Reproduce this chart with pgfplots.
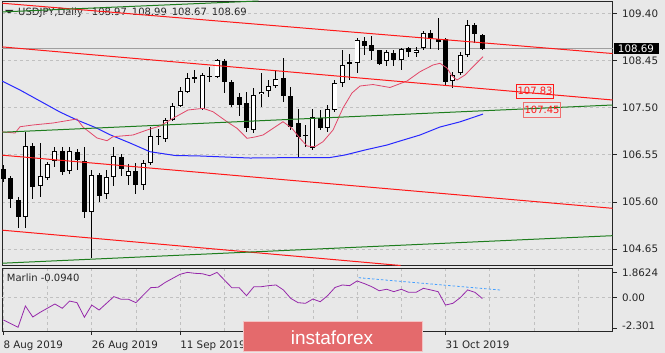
\documentclass[border=0pt]{standalone}
\usepackage{fontspec}
\setmainfont{DejaVu Sans}
\newfontfamily\logofont{Liberation Sans}
\usepackage{pgfplots}
\pgfplotsset{compat=1.18}
\usepackage{pgfplotstable}

\definecolor{bgc}{RGB}{232,232,232}
\definecolor{gridc}{RGB}{192,192,192}
\definecolor{chred}{RGB}{255,25,25}
\definecolor{chgreen}{RGB}{30,125,30}
\definecolor{mablue}{RGB}{40,40,255}
\definecolor{mapink}{RGB}{226,72,105}
\definecolor{marlinc}{RGB}{150,40,170}
\definecolor{trendblue}{RGB}{70,160,255}
\definecolor{logored}{RGB}{228,106,108}

\pgfplotstableread{
i o h l c
0 106.27 106.34 106.01 106.07
1 106.09 106.12 105.47 105.65
2 105.64 105.70 105.07 105.29
3 105.29 107.00 105.08 106.73
4 106.73 106.78 105.66 105.89
5 105.91 106.79 105.70 106.13
6 106.09 106.41 106.04 106.36
7 106.43 106.70 106.31 106.63
8 106.63 106.70 106.14 106.21
9 106.23 106.70 106.17 106.63
10 106.61 106.66 106.24 106.44
11 106.43 106.71 105.27 105.40
12 105.40 106.24 104.46 106.15
13 106.15 106.19 105.60 105.72
14 105.75 106.24 105.65 106.11
15 106.11 106.71 105.91 106.52
16 106.50 106.56 106.12 106.27
17 106.12 106.36 105.94 106.22
18 106.22 106.39 105.75 105.94
19 105.95 106.44 105.84 106.39
20 106.38 107.11 106.34 106.93
21 106.91 107.06 106.75 106.93
22 106.87 107.30 106.81 107.25
23 107.25 107.60 107.22 107.54
24 107.54 107.92 107.52 107.83
25 107.82 108.19 107.79 108.09
26 108.09 108.26 107.99 108.10
27 107.48 108.19 107.45 108.16
28 108.12 108.32 108.02 108.14
29 108.11 108.49 108.09 108.45
30 108.45 108.49 107.79 108.02
31 108.01 108.06 107.52 107.55
32 107.71 107.79 107.33 107.55
33 107.59 107.82 107.01 107.08
34 107.05 107.89 106.99 107.75
35 107.77 108.19 107.52 107.82
36 107.84 108.06 107.72 107.93
37 107.94 108.26 107.89 108.08
38 108.09 108.51 107.62 107.74
39 107.73 107.92 107.05 107.10
40 107.18 107.48 106.50 106.90
41 106.95 107.15 106.71 106.93
42 106.69 107.48 106.64 107.32
43 107.28 107.45 107.05 107.08
44 107.08 107.55 107.01 107.48
45 107.46 108.06 107.42 108.00
46 107.99 108.66 107.92 108.36
47 108.41 108.59 108.06 108.38
48 108.39 108.90 108.19 108.86
49 108.85 108.93 108.56 108.74
50 108.76 108.94 108.47 108.65
51 108.66 108.67 108.36 108.38
52 108.45 108.67 108.34 108.63
53 108.61 108.66 108.34 108.47
54 108.46 108.71 108.26 108.69
55 108.71 108.73 108.53 108.63
56 108.61 108.73 108.53 108.67
57 108.71 109.05 108.67 109.00
58 109.00 109.06 108.69 108.90
59 108.88 109.30 108.67 108.83
60 108.88 108.90 107.95 108.02
61 108.04 108.22 107.89 108.16
62 108.19 108.63 108.16 108.56
63 108.57 109.27 108.53 109.16
64 109.16 109.20 108.80 108.98
65 108.97 108.99 108.67 108.69
}\candles

\begin{document}
\begin{tikzpicture}
\fill[bgc] (-5pt,-5pt) rectangle (670pt,358pt);
% title
\fill[black!85] (5pt,343pt) -- (13.3pt,343pt) -- (9.15pt,339pt) -- cycle;
\node[anchor=base west, inner sep=0pt, font=\fontsize{10}{12}\selectfont, text=black!85] at (18pt,337.5pt)
 {USDJPY,Daily\hspace{9pt}108.97\hspace{5pt}108.99\hspace{5pt}108.67\hspace{5pt}108.69};

\begin{axis}[
 at={(2.3pt,87.5pt)}, anchor=south west,
 scale only axis, width=610.2pt, height=264.5pt,
 xmin=-0.136, xmax=82.66, ymin=104.316, ymax=109.649,
 clip=false,
 axis line style={black!85, line width=0.9pt},
 xtick=\empty, minor xtick={0,6,...,78}, xminorgrids, minor tick length=0pt,
 ytick={104.65,105.6,106.55,107.5,108.45,109.4},
 yticklabels={104.65,105.60,106.55,107.50,108.45,109.40},
 ytick pos=right, yticklabel pos=right, tick align=outside, major tick length=4pt,
 ytick style={black!85, line width=0.6pt},
 ymajorgrids,
 grid style={gridc, dash pattern=on 3pt off 3pt, line width=0.6pt},
 minor grid style={gridc, dash pattern=on 3pt off 3pt, line width=0.6pt},
 yticklabel style={anchor=west, xshift=2pt, font=\fontsize{10.3}{12}\selectfont, text=black!85},
]
% current price line
\addplot[gray!75, line width=0.6pt, forget plot] coordinates {(-0.136,108.69) (82.66,108.69)};
% wicks
\addplot[draw=none, mark=none, forget plot, error bars/.cd, y dir=both, y explicit, error mark=none,
 error bar style={draw=black, line width=1pt}]
 table[x=i, y expr={(\thisrow{h}+\thisrow{l})/2}, y error expr={(\thisrow{h}-\thisrow{l})/2}] {\candles};
% bodies (outline / black)
\addplot[draw=none, mark=none, forget plot, error bars/.cd, y dir=both, y explicit, error mark=none,
 error bar style={draw=black, line width=5pt}]
 table[x=i, y expr={(\thisrow{o}+\thisrow{c})/2}, y error expr={max(abs(\thisrow{c}-\thisrow{o})/2,0.012)}] {\candles};
% white bodies inner
\addplot[draw=none, mark=none, forget plot, error bars/.cd, y dir=both, y explicit, error mark=none,
 error bar style={draw=white, line width=3.2pt}]
 table[x=i, y expr={ifthenelse(\thisrow{c}>\thisrow{o}+0.03,(\thisrow{o}+\thisrow{c})/2,nan)}, y error expr={abs(\thisrow{c}-\thisrow{o})/2-0.02}] {\candles};
% moving averages
\addplot[mablue, line width=1pt] coordinates {(-0.136,108.033) (2.27,107.854) (4.98,107.632) (7.69,107.410) (10.0,107.249) (12.58,107.093) (14.48,106.952) (17.19,106.786) (19.9,106.610) (23.3,106.534) (26.69,106.524) (33.47,106.483) (40.26,106.493) (44.33,106.493) (46.36,106.544) (49.08,106.645) (52.06,106.745) (53.83,106.826) (56.54,106.947) (59.25,107.108) (61.96,107.212) (65.09,107.369)};
\addplot[mapink, line width=0.8pt] coordinates {(-0.136,107.011) (1.59,106.987) (2.27,107.114) (4.03,107.149) (6.74,107.189) (10.0,107.270) (10.81,107.108) (12.71,106.887) (14.07,106.832) (14.88,106.913) (17.6,106.947) (19.5,107.048) (21.26,107.128) (23.03,107.284) (25.06,107.451) (27.1,107.485) (28.45,107.417) (30.35,107.215) (31.71,107.082) (33.07,106.880) (34.15,106.907) (35.24,106.947) (37.95,107.215) (39.17,107.082) (40.26,106.880) (41.21,106.725) (42.29,106.711) (43.38,106.812) (44.74,107.048) (46.09,107.491) (47.31,107.794) (48.4,107.935) (50.16,107.965) (52.47,107.905) (54.78,108.036) (56.54,108.223) (58.3,108.358) (59.25,108.393) (60.2,108.298) (60.88,108.137) (61.56,108.056) (62.65,108.157) (63.73,108.324) (65.09,108.526)};
% channel lines
\addplot[chred, line width=1pt] coordinates {(-0.136,109.604) (82.66,108.59)};
\addplot[chred, line width=1pt] coordinates {(-0.136,108.723) (82.66,107.653)};
\addplot[chred, line width=1pt] coordinates {(-0.136,106.540) (82.66,105.469)};
\addplot[chred, line width=1pt] coordinates {(-0.136,105.028) (53.9,104.316)};
\addplot[chgreen, line width=1pt] coordinates {(-0.136,107.003) (82.66,107.552)};
\addplot[chgreen, line width=1pt] coordinates {(-0.136,104.362) (82.66,104.917)};
\addplot[chgreen, line width=1pt] coordinates {(-0.136,109.429) (34.6,109.649)};
% labels
\node[draw=chred, line width=0.8pt, text=chred, inner sep=0pt, minimum width=36.7pt, minimum height=14pt, font=\fontsize{10}{12}\selectfont] at (axis cs:72.15,107.834) {107.83};
\node[draw={rgb,255:red,240;green,110;blue,110}, line width=1.2pt, text=chred, inner sep=0pt, minimum width=37pt, minimum height=14.6pt, font=\fontsize{10}{12}\selectfont] at (axis cs:73.1,107.451) {107.45};
\node[fill=black, text=white, anchor=west, inner sep=0pt, minimum width=45pt, minimum height=11.3pt, font=\fontsize{10.3}{12}\selectfont, xshift=0.8pt] at (axis cs:82.66,108.69) {108.69};
\end{axis}

\begin{axis}[
 at={(2.3pt,22pt)}, anchor=south west,
 scale only axis, width=610.2pt, height=63pt,
 xmin=-0.136, xmax=82.66, ymin=-2.515, ymax=2.187,
 clip=false,
 axis line style={black!85, line width=0.9pt},
 xtick={0,12,24,60}, xticklabels={8 Aug 2019,26 Aug 2019,11 Sep 2019,31 Oct 2019},
 minor xtick={6,18,30,36,42,48,54,66,72,78},
 xmajorgrids, xminorgrids, minor tick length=0pt,
 xtick pos=bottom, ytick pos=right, tick align=outside, major tick length=4pt,
 tick style={black!85, line width=0.6pt},
 grid style={gridc, dash pattern=on 3pt off 3pt, line width=0.6pt},
 minor grid style={gridc, dash pattern=on 3pt off 3pt, line width=0.6pt},
 xticklabel style={anchor=north west, inner sep=0pt, yshift=-6pt, font=\fontsize{10.3}{12}\selectfont, text=black!85},
 ytick={-2.301,1.8624}, yticklabels={\raisebox{4pt}{-2.301},\raisebox{-5pt}{1.8624}},
 extra y ticks={0}, extra y tick labels={0.00}, extra y tick style={ymajorgrids=true},
 yticklabel pos=right,
 yticklabel style={anchor=west, xshift=2pt, font=\fontsize{10.3}{12}\selectfont, text=black!85},
]
\addplot[marlinc, line width=0.8pt] coordinates {(0,-1.69) (2,-2.24) (3,-0.65) (4,-1.47) (5,-1.12) (7,-0.50) (8,-0.82) (9,-0.28) (10,-0.40) (11,-1.49) (12,-0.58) (13,-0.95) (14,-0.45) (15,0.05) (16,-0.15) (17,-0.15) (18,-0.40) (19,0.17) (20,0.72) (21,0.75) (22,1.12) (23,1.42) (24,1.72) (25,1.86) (26,1.79) (27,1.76) (28,1.61) (29,1.86) (30,1.29) (31,0.72) (32,0.72) (33,0.12) (34,0.79) (35,0.79) (36,0.87) (37,0.92) (38,0.55) (39,-0.08) (40,-0.40) (41,-0.45) (42,-0.13) (43,-0.33) (44,0.12) (45,0.73) (46,0.92) (47,0.87) (48,1.22) (49,1.02) (50,0.79) (51,0.49) (52,0.60) (53,0.42) (54,0.60) (55,0.37) (56,0.37) (57,0.67) (58,0.55) (59,0.42) (60,-0.58) (61,-0.45) (62,-0.03) (63,0.55) (64,0.37) (65,-0.094)};
\addplot[trendblue, line width=0.8pt, dash pattern=on 2.5pt off 2pt] coordinates {(48.2,1.463) (67.4,0.545)};
\node[anchor=north west, inner sep=0pt, xshift=4.4pt, yshift=-6pt, font=\fontsize{10}{12}\selectfont, text=black!85] at (rel axis cs:0,1) {Marlin -0.0940};
\end{axis}

% logo
\fill[logored] (243.9pt,1.3pt) rectangle (422pt,31.3pt);
\draw[white!60!logored, line width=1pt] (243.9pt,1.3pt) rectangle (422pt,31.3pt);
\node[anchor=base, inner sep=0pt, text=white, font=\logofont\fontsize{19}{22}\selectfont] at (332pt,8pt) {instaforex};
\pgfresetboundingbox
\useasboundingbox (0pt,0pt) rectangle (665pt,353pt);
\end{tikzpicture}
\end{document}
